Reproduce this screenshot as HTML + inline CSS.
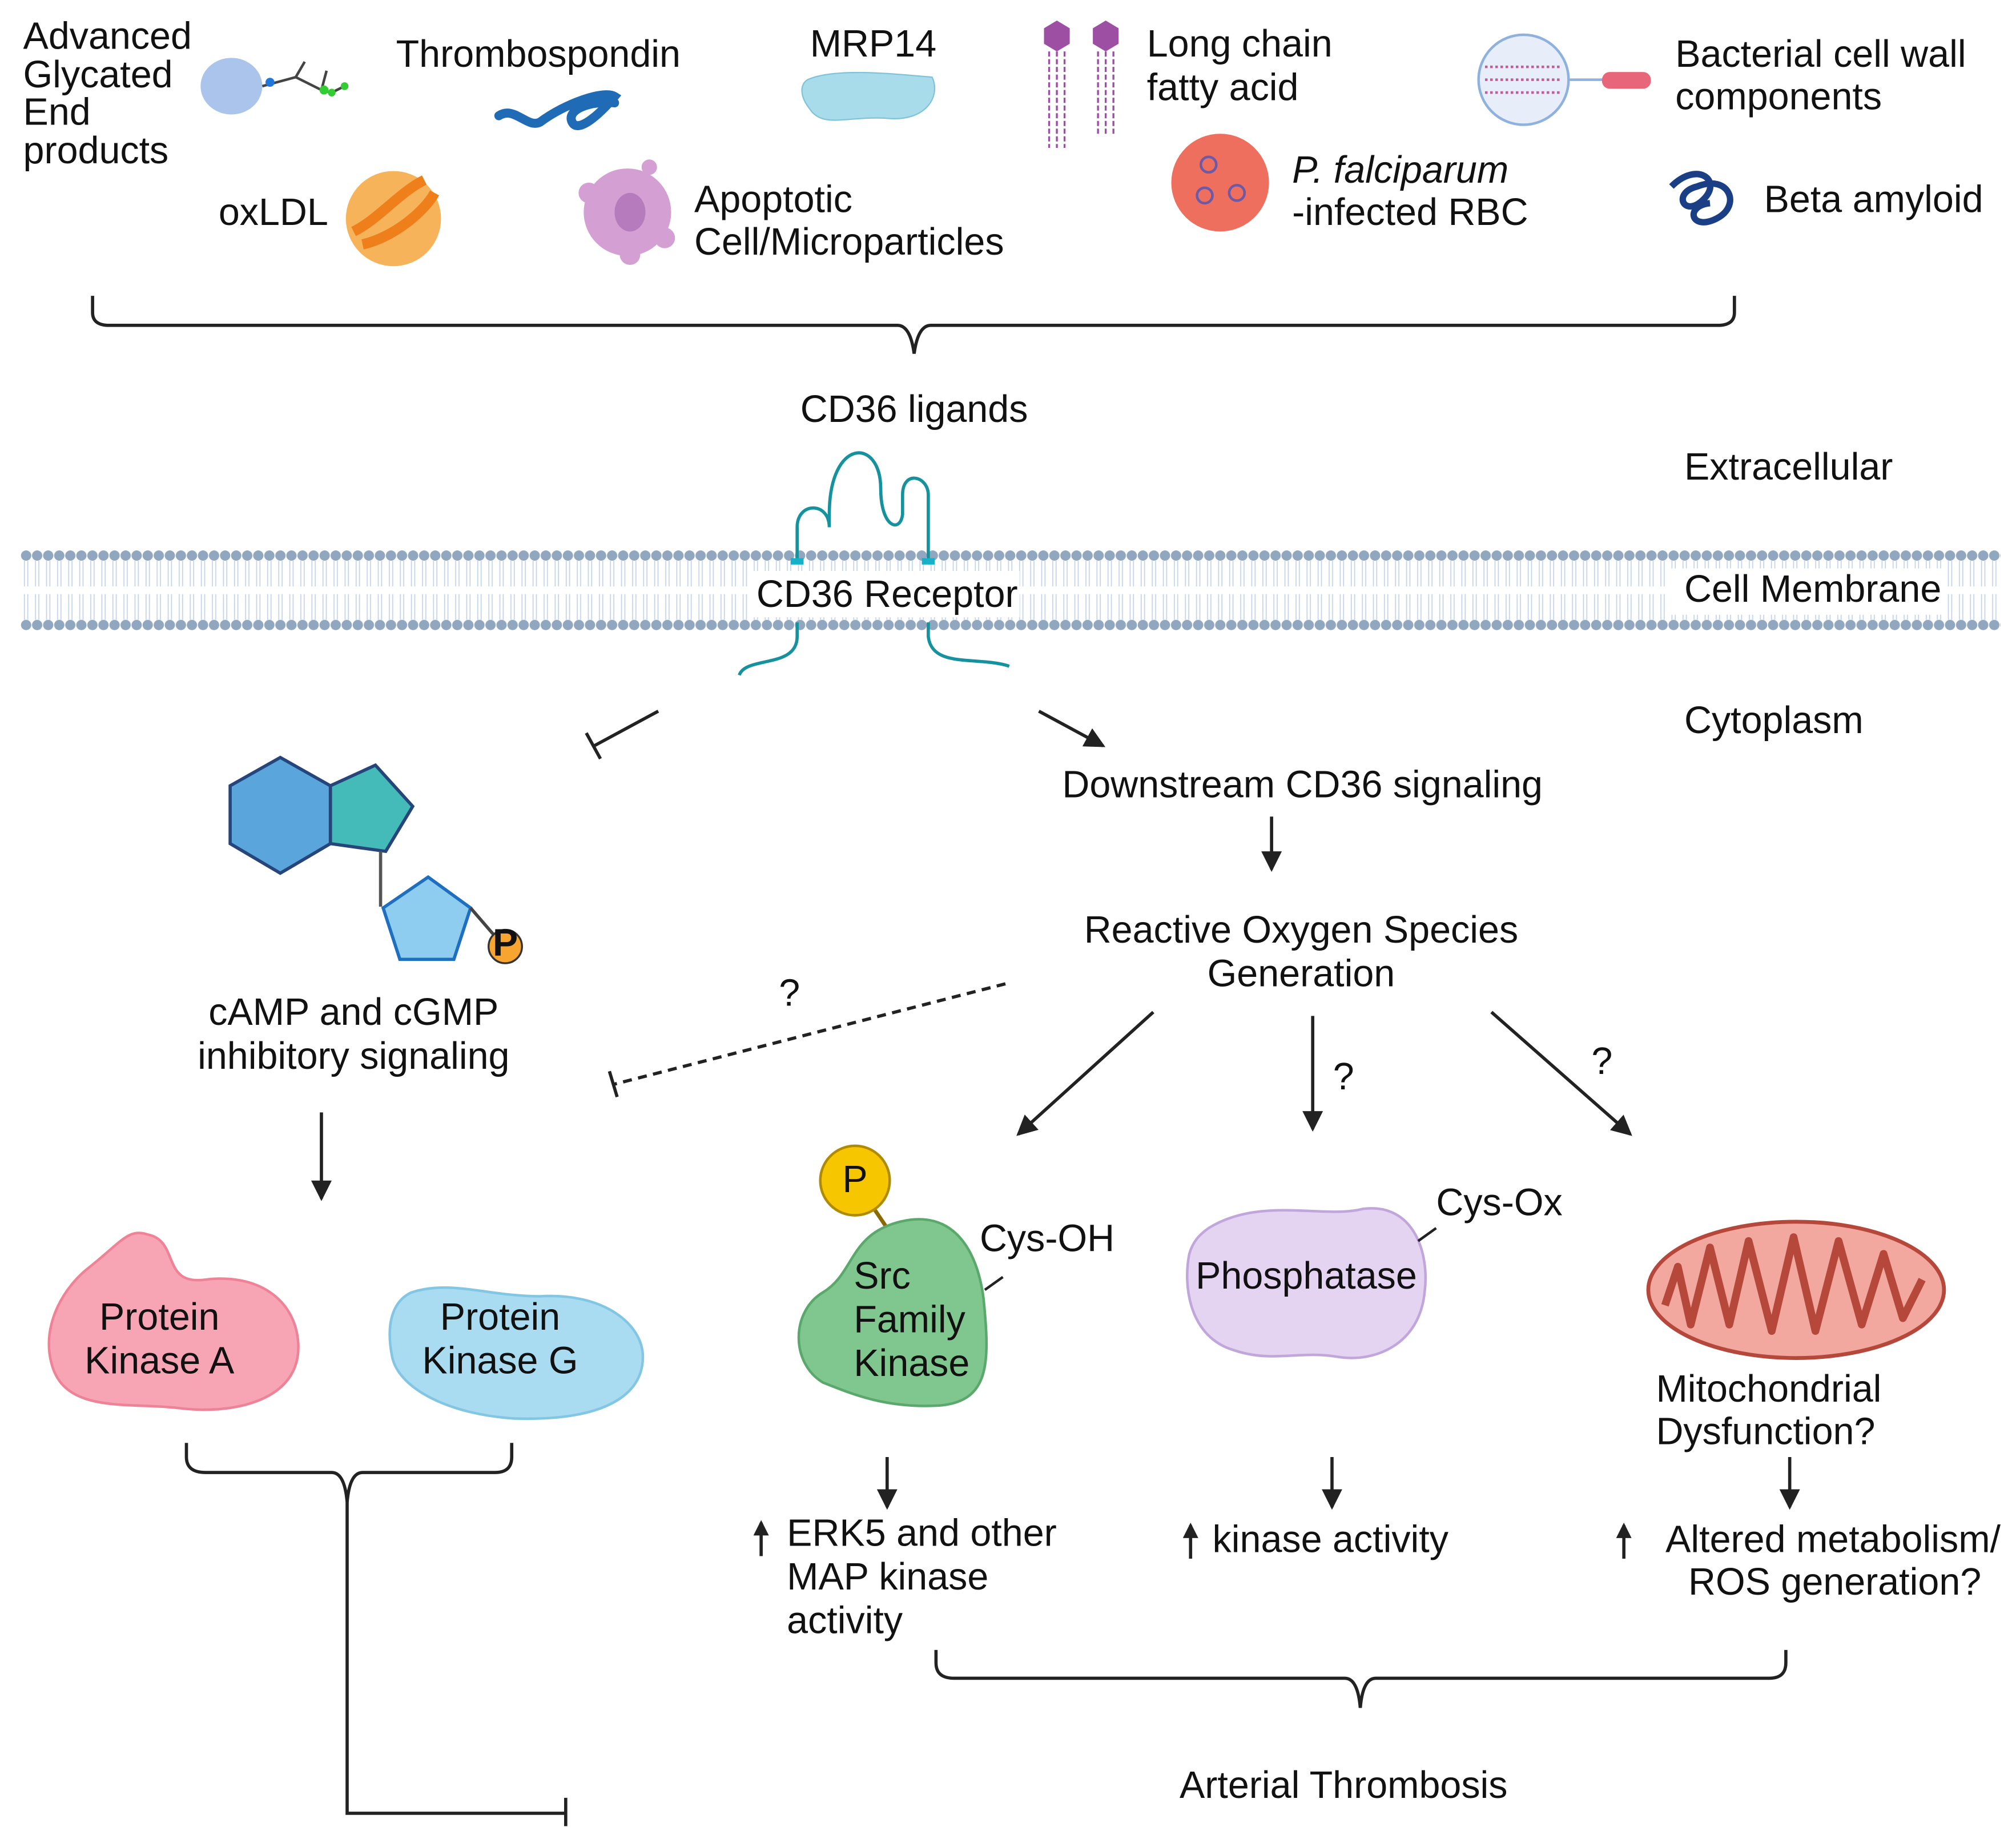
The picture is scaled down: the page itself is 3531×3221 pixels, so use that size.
<!DOCTYPE html>
<html><head><meta charset="utf-8"><style>html,body{margin:0;padding:0;background:#fff}svg{display:block}text{font-family:"Liberation Sans",sans-serif;font-size:29.5px;fill:#111}</style></head><body>
<svg width="3531" height="3221" viewBox="0 0 1568 1430" preserveAspectRatio="none" xmlns="http://www.w3.org/2000/svg">
<defs>
<marker id="ah" markerWidth="12" markerHeight="12" refX="10" refY="6" orient="auto" markerUnits="userSpaceOnUse"><path d="M0,0 L12,6 L0,12 z" fill="#222"/></marker>
<marker id="ah2" markerWidth="16" markerHeight="16" refX="14" refY="8" orient="auto" markerUnits="userSpaceOnUse"><path d="M0,0 L16,8 L0,16 z" fill="#222"/></marker>
<pattern id="mem" width="8.6" height="62" patternUnits="userSpaceOnUse" x="16" y="428">
<circle cx="4.3" cy="4" r="4" fill="#91a6bf"/><circle cx="4.3" cy="58" r="4" fill="#91a6bf"/>
<path d="M3,8 V28 M5.6,8 V28 M3,34 V54 M5.6,34 V54" stroke="#c6d4ea" stroke-width="0.8"/>
</pattern>
</defs>
<text x="18" y="38">Advanced</text><text x="18" y="68">Glycated</text><text x="18" y="97">End</text><text x="18" y="127">products</text>
<ellipse cx="180" cy="67" rx="24" ry="22" fill="#aac4ec"/>
<path d="M204,67 L230,60 L237,48 M230,60 L250,70 L254,55 M250,70 L258,72 L268,67" stroke="#444" stroke-width="2" fill="none"/>
<circle cx="210" cy="64" r="3.5" fill="#2277dd"/><circle cx="252" cy="70" r="3.5" fill="#33cc33"/><circle cx="258" cy="72" r="3" fill="#33cc33"/><circle cx="268" cy="67" r="3" fill="#33cc33"/>
<text x="308" y="52">Thrombospondin</text>
<path d="M388,90 C400,82 410,100 420,95 C440,80 470,70 478,75 C470,85 450,105 445,95 C440,85 460,78 478,80" stroke="#1f6bb5" stroke-width="7" fill="none" stroke-linecap="round"/>
<text x="630" y="44">MRP14</text>
<path d="M628,62 C650,52 700,58 725,60 C732,75 720,95 690,92 C660,90 640,100 630,85 C622,75 622,66 628,62 z" fill="#a9dcea" stroke="#7fc3d8"/>
<polygon points="812,22 822,16 832,22 832,34 822,40 812,34" fill="#9c4fa3"/><polygon points="850,22 860,16 870,22 870,34 860,40 850,34" fill="#9c4fa3"/>
<path d="M816,40 V115 M822,40 V115 M828,40 V115 M854,40 V105 M860,40 V105 M866,40 V105" stroke="#9c4fa3" stroke-width="1.5" stroke-dasharray="4,2"/>
<text x="892" y="44">Long chain</text><text x="892" y="78">fatty acid</text>
<circle cx="1185" cy="62" r="35" fill="#e8eef9" stroke="#8fb1de" stroke-width="2"/>
<path d="M1155,52 H1215 M1155,62 H1215 M1155,72 H1215" stroke="#c05d9a" stroke-width="2" stroke-dasharray="2,2"/>
<path d="M1220,62 L1250,62" stroke="#8fb1de" stroke-width="2"/>
<rect x="1246" y="56" width="38" height="13" rx="6" fill="#e8667a"/>
<text x="1303" y="52">Bacterial cell wall</text><text x="1303" y="85">components</text>
<text x="170" y="175">oxLDL</text>
<circle cx="306" cy="170" r="37" fill="#f6b359"/>
<path d="M275,180 C295,170 310,150 330,140 M282,190 C305,185 330,165 338,150" stroke="#ef7f1a" stroke-width="8" fill="none"/>
<circle cx="488" cy="165" r="34" fill="#d49fd2"/><circle cx="458" cy="150" r="8" fill="#d49fd2"/><circle cx="517" cy="185" r="8" fill="#d49fd2"/><circle cx="490" cy="198" r="8" fill="#d49fd2"/><circle cx="505" cy="130" r="6" fill="#d49fd2"/>
<ellipse cx="490" cy="165" rx="12" ry="15" fill="#b57bbd"/>
<text x="540" y="165">Apoptotic</text><text x="540" y="198">Cell/Microparticles</text>
<circle cx="949" cy="142" r="38" fill="#ee6f5e"/>
<circle cx="940" cy="128" r="6" fill="none" stroke="#6a5aa8" stroke-width="2"/><circle cx="937" cy="152" r="6" fill="none" stroke="#6a5aa8" stroke-width="2"/><circle cx="962" cy="150" r="6" fill="none" stroke="#6a5aa8" stroke-width="2"/>
<text x="1005" y="142" font-style="italic">P. falciparum</text><text x="1005" y="175">-infected RBC</text>
<path d="M1300,145 C1320,125 1340,140 1325,155 C1310,170 1300,150 1320,145 C1345,135 1355,160 1335,170 C1315,180 1310,160 1330,158" stroke="#1b3f85" stroke-width="5" fill="none"/>
<text x="1372" y="165">Beta amyloid</text>
<path d="M72,230 V243 Q72,253 85,253 H698 Q708,253 711,275 Q714,253 724,253 H1336 Q1349,253 1349,243 V230" stroke="#222" stroke-width="2.5" fill="none"/>
<text x="711" y="328" text-anchor="middle">CD36 ligands</text>
<text x="1310" y="373">Extracellular</text>
<rect x="16" y="428" width="1540" height="62" fill="url(#mem)"/>
<rect x="585" y="444" width="208" height="36" fill="#fff"/>
<rect x="1298" y="442" width="216" height="36" fill="#fff"/>
<text x="690" y="472" text-anchor="middle">CD36 Receptor</text>
<text x="1310" y="468">Cell Membrane</text>
<path d="M620,437 V410 C620,390 645,390 645,410 V400 C645,340 685,340 685,380 C685,410 700,415 702,400 V385 C702,365 722,370 722,385 V437" stroke="#16929f" stroke-width="2.5" fill="none"/>
<path d="M620,484 V495 C620,520 580,510 575,525 M722,484 V495 C725,520 760,510 785,518" stroke="#16929f" stroke-width="2.5" fill="none"/>
<rect x="615" y="434" width="10" height="5" fill="#16b0c7"/><rect x="717" y="434" width="10" height="5" fill="#16b0c7"/>
<text x="1310" y="570">Cytoplasm</text>
<path d="M512,553 L462,580 M456,570 L467,590" stroke="#222" stroke-width="2.5"/>
<path d="M808,553 L858,580" stroke="#222" stroke-width="2.5" marker-end="url(#ah2)"/>
<text x="1013" y="620" text-anchor="middle">Downstream CD36 signaling</text>
<path d="M989,635 V676" stroke="#222" stroke-width="2.5" marker-end="url(#ah2)"/>
<text x="1012" y="733" text-anchor="middle">Reactive Oxygen Species</text><text x="1012" y="767" text-anchor="middle">Generation</text>
<polygon points="218,589 257,611 257,656 218,679 179,656 179,611" fill="#5aa6dc" stroke="#26457a" stroke-width="2.5"/>
<polygon points="257,611 292,595 321,627 300,662 257,656" fill="#44bbb8" stroke="#26457a" stroke-width="2.5"/>
<path d="M296,662 V705" stroke="#555" stroke-width="2.5"/>
<polygon points="333,682 366,706 353,746 311,746 298,706" fill="#8fcdf0" stroke="#1e6fbf" stroke-width="2.5"/>
<path d="M366,706 L385,728" stroke="#444" stroke-width="2.5"/>
<circle cx="393" cy="736" r="13" fill="#f7a530" stroke="#333" stroke-width="1.5"/><text x="393" y="743" text-anchor="middle" font-size="17" font-weight="bold">P</text>
<text x="275" y="797" text-anchor="middle">cAMP and cGMP</text><text x="275" y="831" text-anchor="middle">inhibitory signaling</text>
<path d="M250,865 V932" stroke="#222" stroke-width="2.5" marker-end="url(#ah2)"/>
<path d="M782,765 L478,843" stroke="#222" stroke-width="2.5" stroke-dasharray="7,5"/><path d="M474,833 L480,853" stroke="#222" stroke-width="2.5"/>
<text x="614" y="782" text-anchor="middle" font-size="25">?</text>
<path d="M897,787 L792,882" stroke="#222" stroke-width="2.5" marker-end="url(#ah2)"/>
<path d="M1021,790 V878" stroke="#222" stroke-width="2.5" marker-end="url(#ah2)"/><text x="1045" y="847" text-anchor="middle" font-size="25">?</text>
<path d="M1160,787 L1268,882" stroke="#222" stroke-width="2.5" marker-end="url(#ah2)"/><text x="1246" y="835" text-anchor="middle" font-size="25">?</text>
<path d="M70,985 C95,965 100,955 115,960 C140,965 125,1000 160,995 C200,990 230,1010 232,1045 C234,1090 180,1100 140,1095 C100,1090 50,1100 40,1060 C32,1030 50,1000 70,985 z" fill="#f7a5b4" stroke="#ee8296" stroke-width="2"/>
<text x="124" y="1034" text-anchor="middle">Protein</text><text x="124" y="1068" text-anchor="middle">Kinase A</text>
<path d="M320,1005 C350,995 380,1008 420,1008 C470,1005 500,1030 500,1055 C500,1090 460,1105 400,1103 C350,1100 310,1080 305,1055 C300,1030 305,1012 320,1005 z" fill="#a9dcf0" stroke="#82c6e4" stroke-width="2"/>
<text x="389" y="1034" text-anchor="middle">Protein</text><text x="389" y="1068" text-anchor="middle">Kinase G</text>
<path d="M145,1122 V1133 Q145,1145 160,1145 H258 Q268,1145 270,1168 Q272,1145 282,1145 H385 Q398,1145 398,1133 V1122" stroke="#222" stroke-width="2.5" fill="none"/>
<path d="M270,1168 V1410 H440 M440,1398 V1420" stroke="#222" stroke-width="2.5" fill="none"/>
<path d="M665,918 L690,955" stroke="#8a6a00" stroke-width="3"/>
<circle cx="665" cy="918" r="27" fill="#f6c700" stroke="#b08a00" stroke-width="2"/><text x="665" y="927" text-anchor="middle" font-size="22" fill="#6b5000">P</text>
<path d="M700,950 C740,940 760,970 765,1010 C770,1060 770,1090 730,1093 C690,1095 665,1085 640,1075 C615,1060 615,1020 640,1005 C665,990 660,960 700,950 z" fill="#7fc68f" stroke="#5aa86c" stroke-width="2"/>
<path d="M766,1003 L780,993" stroke="#222" stroke-width="2"/>
<text x="664" y="1002">Src</text><text x="664" y="1036">Family</text><text x="664" y="1070">Kinase</text>
<text x="762" y="973">Cys-OH</text>
<path d="M940,955 C980,930 1030,948 1060,940 C1100,935 1112,975 1108,1005 C1104,1045 1070,1060 1040,1055 C1010,1050 990,1060 960,1050 C925,1040 920,1000 925,975 C928,965 933,960 940,955 z" fill="#e5d3f2" stroke="#c0a6db" stroke-width="2"/>
<path d="M1103,965 L1117,955" stroke="#222" stroke-width="2"/>
<text x="1016" y="1002" text-anchor="middle">Phosphatase</text>
<text x="1117" y="945">Cys-Ox</text>
<ellipse cx="1397" cy="1003" rx="115" ry="53" fill="#f2a89e" stroke="#b5483a" stroke-width="3"/>
<path d="M1295,1015 L1305,985 L1315,1030 L1330,970 L1345,1030 L1360,965 L1378,1035 L1395,962 L1412,1035 L1430,965 L1448,1030 L1465,975 L1480,1025 L1495,995" stroke="#b5483a" stroke-width="6" fill="none" stroke-linejoin="round"/>
<text x="1288" y="1090">Mitochondrial</text><text x="1288" y="1123">Dysfunction?</text>
<path d="M690,1133 V1172" stroke="#222" stroke-width="2.5" marker-end="url(#ah2)"/>
<path d="M1036,1133 V1172" stroke="#222" stroke-width="2.5" marker-end="url(#ah2)"/>
<path d="M1392,1133 V1172" stroke="#222" stroke-width="2.5" marker-end="url(#ah2)"/>
<path d="M592,1210 V1184" stroke="#222" stroke-width="2.5" marker-end="url(#ah)"/>
<text x="612" y="1202">ERK5 and other</text><text x="612" y="1236">MAP kinase</text><text x="612" y="1270">activity</text>
<path d="M926,1212 V1186" stroke="#222" stroke-width="2.5" marker-end="url(#ah)"/>
<text x="943" y="1207">kinase activity</text>
<path d="M1263,1212 V1186" stroke="#222" stroke-width="2.5" marker-end="url(#ah)"/>
<text x="1556" y="1207" text-anchor="end">Altered metabolism/</text><text x="1541" y="1240" text-anchor="end">ROS generation?</text>
<path d="M728,1283 V1293 Q728,1305 742,1305 H1046 Q1056,1305 1058,1328 Q1060,1305 1070,1305 H1376 Q1389,1305 1389,1293 V1283" stroke="#222" stroke-width="2.5" fill="none"/>
<text x="1045" y="1398" text-anchor="middle">Arterial Thrombosis</text>
</svg>
</body></html>
